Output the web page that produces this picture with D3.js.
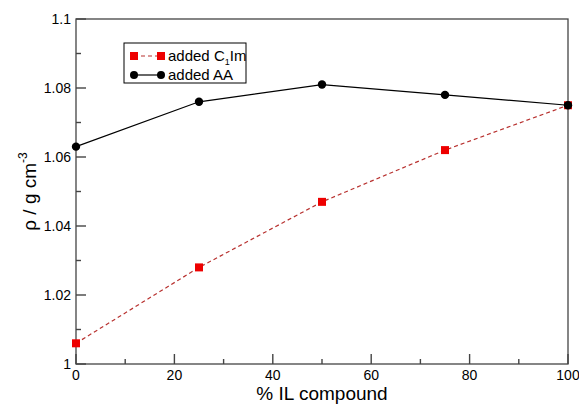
<!DOCTYPE html>
<html><head><meta charset="utf-8">
<script src="https://cdn.jsdelivr.net/npm/d3@7"></script>
<style>body{margin:0;background:#fff}text{font-family:"Liberation Sans",Arial,sans-serif}</style>
</head><body>
<svg id="c" width="579" height="404"></svg>
<script>
// Density vs. percentage of ionic liquid compound
const percent = [0, 25, 50, 75, 100];
const densityC1Im = [1.006, 1.028, 1.047, 1.062, 1.075];
const densityAA = [1.063, 1.076, 1.081, 1.078, 1.075];
const xMajor = [0, 20, 40, 60, 80, 100];
const xMinor = [10, 30, 50, 70, 90];
const yMajor = [1, 1.02, 1.04, 1.06, 1.08, 1.1];
const yMinor = [1.01, 1.03, 1.05, 1.07, 1.09];

const svg = d3.select("#c");
const L = 76, R = 568, T = 19, B = 364;
const x = d3.scaleLinear().domain([0, 100]).range([L, R]);
const y = d3.scaleLinear().domain([1, 1.1]).range([B, T]);
const frame = "#444";

// frame
svg.append("rect").attr("x", L).attr("y", T).attr("width", R - L).attr("height", B - T)
  .attr("fill", "none").attr("stroke", frame).attr("stroke-width", 1.3);

// inward ticks (major 10px, minor 5px)
const tickData = [
  ...xMajor.map(v => ({ x1: x(v), y1: B, x2: x(v), y2: B - 10 })),
  ...xMinor.map(v => ({ x1: x(v), y1: B, x2: x(v), y2: B - 5 })),
  ...yMajor.map(v => ({ x1: L, y1: y(v), x2: L + 10, y2: y(v) })),
  ...yMinor.map(v => ({ x1: L, y1: y(v), x2: L + 5, y2: y(v) }))
];
svg.append("g").selectAll("line").data(tickData).join("line")
  .attr("x1", d => d.x1).attr("y1", d => d.y1).attr("x2", d => d.x2).attr("y2", d => d.y2)
  .attr("stroke", frame).attr("stroke-width", 1.4);

// tick labels
const fmtY = d => String(+d.toFixed(2));
svg.append("g").selectAll("text").data(xMajor).join("text")
  .attr("x", d => x(d)).attr("y", B + 16).attr("text-anchor", "middle")
  .attr("font-size", 14).text(d3.format("d"));
svg.append("g").selectAll("text").data(yMajor).join("text")
  .attr("x", L - 5).attr("y", d => y(d)).attr("dy", "0.35em").attr("text-anchor", "end")
  .attr("font-size", 14).text(fmtY);

// series
const line = d3.line().x(d => x(d[0])).y(d => y(d[1]));
const c1 = percent.map((p, i) => [p, densityC1Im[i]]);
const aa = percent.map((p, i) => [p, densityAA[i]]);
svg.append("path").datum(c1).attr("d", line).attr("fill", "none")
  .attr("stroke", "#b8312f").attr("stroke-width", 1.2).attr("stroke-dasharray", "4,3");
svg.append("path").datum(aa).attr("d", line).attr("fill", "none")
  .attr("stroke", "#000").attr("stroke-width", 1.2);
svg.selectAll(".sq").data(c1).join("rect")
  .attr("x", d => x(d[0]) - 4).attr("y", d => y(d[1]) - 4)
  .attr("width", 8).attr("height", 8).attr("fill", "#e00");
svg.selectAll(".ci").data(aa).join("circle")
  .attr("cx", d => x(d[0])).attr("cy", d => y(d[1])).attr("r", 4.2).attr("fill", "#000");

// legend
const lg = svg.append("g");
lg.append("rect").attr("x", 124).attr("y", 43).attr("width", 122).attr("height", 40)
  .attr("fill", "#fff").attr("stroke", "#000").attr("stroke-width", 1);
lg.append("line").attr("x1", 134).attr("x2", 161).attr("y1", 56).attr("y2", 56)
  .attr("stroke", "#b8312f").attr("stroke-width", 1.2).attr("stroke-dasharray", "4,3");
[134, 161].forEach(cx => lg.append("rect").attr("x", cx - 4).attr("y", 52).attr("width", 8).attr("height", 8).attr("fill", "#e00"));
lg.append("line").attr("x1", 134).attr("x2", 161).attr("y1", 75).attr("y2", 75)
  .attr("stroke", "#000").attr("stroke-width", 1.2);
[134, 161].forEach(cx => lg.append("circle").attr("cx", cx).attr("cy", 75).attr("r", 4).attr("fill", "#000"));
const t1 = lg.append("text").attr("x", 168).attr("y", 61).attr("font-size", 15);
t1.append("tspan").text("added C");
t1.append("tspan").attr("font-size", 9).attr("dy", 4).text("1");
t1.append("tspan").attr("dy", -4).text("Im");
lg.append("text").attr("x", 168).attr("y", 80).attr("font-size", 15).text("added AA");

// axis titles
svg.append("text").attr("x", (L + R) / 2).attr("y", 400).attr("text-anchor", "middle")
  .attr("font-size", 19).text("% IL compound");
const yt = svg.append("text").attr("transform", `translate(36,${(T + B) / 2}) rotate(-90)`)
  .attr("text-anchor", "middle").attr("font-size", 19);
yt.append("tspan").text("ρ / g cm");
yt.append("tspan").attr("font-size", 12).attr("dy", -9).text("-3");
</script>
</body></html>
